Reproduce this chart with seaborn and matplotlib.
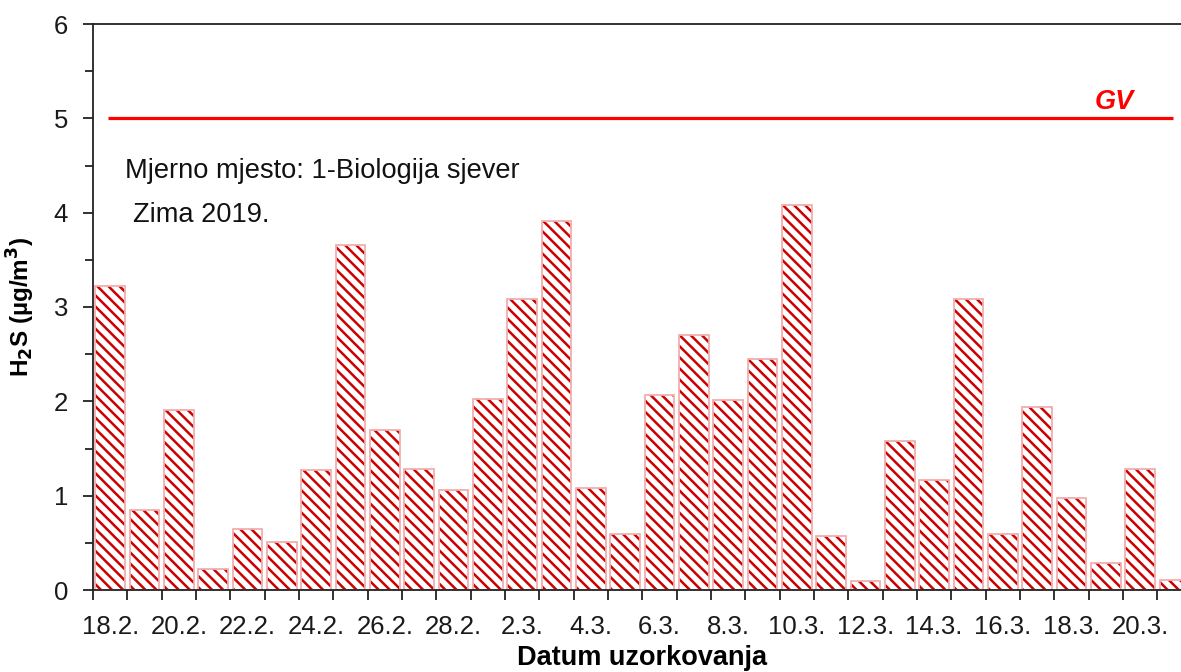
import matplotlib
matplotlib.use("Agg")
import matplotlib.pyplot as plt
import seaborn as sns
import numpy as np
import pandas as pd

dates = ["18.2.", "19.2.", "20.2.", "21.2.", "22.2.", "23.2.", "24.2.", "25.2.",
         "26.2.", "27.2.", "28.2.", "1.3.", "2.3.", "3.3.", "4.3.", "5.3.",
         "6.3.", "7.3.", "8.3.", "9.3.", "10.3.", "11.3.", "12.3.", "13.3.",
         "14.3.", "15.3.", "16.3.", "17.3.", "18.3.", "19.3.", "20.3.", "21.3."]
h2s = [3.22, 0.85, 1.91, 0.22, 0.65, 0.51, 1.27, 3.66,
       1.70, 1.28, 1.06, 2.03, 3.09, 3.91, 1.08, 0.59,
       2.07, 2.70, 2.01, 2.45, 4.08, 0.57, 0.10, 1.58,
       1.17, 3.09, 0.59, 1.94, 0.97, 0.29, 1.28, 0.11]
gv_value = 5
y_ticks = [0, 1, 2, 3, 4, 5, 6]
label_dates = dates[::2]

df = pd.DataFrame({"datum": dates, "h2s": h2s})

plt.rcParams['font.family'] = ['Liberation Sans', 'DejaVu Sans']
plt.rcParams['hatch.linewidth'] = 1.8

fig = plt.figure(figsize=(11.81, 6.72), dpi=100)
ax = fig.add_axes([93/1181, 82/672, 1098.6/1181, 566/672])

sns.barplot(data=df, x="datum", y="h2s", order=dates, ax=ax, width=0.87,
            color="white", edgecolor="#cc0000", linewidth=0, hatch="\\\\\\",
            errorbar=None, saturation=1)
sns.barplot(data=df, x="datum", y="h2s", order=dates, ax=ax, width=0.87,
            fill=False, edgecolor="#f0b0b0", linewidth=1.3,
            errorbar=None, saturation=1)

ax.hlines(gv_value, -0.06, 30.96, color="#ff0000", linewidth=2.3, zorder=3)
ax.text(0.930, 0.862, "GV", transform=ax.transAxes, color="#ff0000",
        fontsize=19.5, fontweight="bold", fontstyle="italic", ha="center", va="center")
ax.text(0.029, 0.740, "Mjerno mjesto: 1-Biologija sjever", transform=ax.transAxes,
        fontsize=19.6, ha="left", va="center", color="#111111")
ax.text(0.0364, 0.6625, "Zima 2019.", transform=ax.transAxes,
        fontsize=19.6, ha="left", va="center", color="#111111")

ax.set_xlim(-0.5, len(dates) - 0.5)
ax.set_ylim(0, 6)
ax.set_yticks(y_ticks)
ax.set_yticklabels([str(t) for t in y_ticks], fontsize=18.5, color="#1a1a1a")
ax.set_yticks(np.arange(0.5, 6, 1.0), minor=True)

# x: labels at every second bar centre, ticks at category boundaries
ax.set_xticks(np.arange(0, len(dates), 2))
ax.set_xticklabels(label_dates, fontsize=18.5, color="#1a1a1a")
ax.set_xticks(np.arange(-0.5, len(dates), 1.0), minor=True)
ax.tick_params(axis="x", which="major", length=0, pad=18)
ax.tick_params(axis="x", which="minor", length=7, width=1.3, direction="out", color="#222222")
ax.tick_params(axis="y", which="major", length=7, width=1.3, pad=11, color="#222222")
ax.tick_params(axis="y", which="minor", length=6, width=1.3, color="#222222")

ax.set_xlabel("Datum uzorkovanja", fontsize=19.5, fontweight="bold", labelpad=4)
ax.set_ylabel("H$_\\mathbf{2}$S (µg/m$^\\mathbf{3}$)", fontsize=17.5, fontweight="bold", labelpad=12)

for side in ["left", "top", "bottom"]:
    ax.spines[side].set_linewidth(1.3)
    ax.spines[side].set_color("#222222")
ax.spines["right"].set_visible(False)

fig.savefig("out.png", dpi=100)
